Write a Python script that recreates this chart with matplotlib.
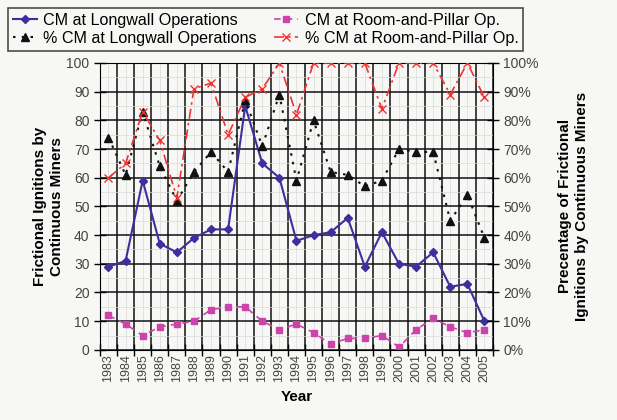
import matplotlib
matplotlib.use("Agg")
import matplotlib.pyplot as plt
import numpy as np
from matplotlib.ticker import MultipleLocator, FixedLocator, FuncFormatter

plt.rcParams['font.family'] = ['Liberation Sans', 'DejaVu Sans']

years = ["1983", "1984", "1985", "1986", "1987", "1988", "1989", "1990", "1991", "1992",
         "1993", "1994", "1995", "1996", "1997", "1998", "1999", "2000", "2001", "2002",
         "2003", "2004", "2005"]
cm_longwall = [29, 31, 59, 37, 34, 39, 42, 42, 85, 65, 60, 38, 40, 41, 46, 29, 41, 30, 29, 34, 22, 23, 10]
cm_room_pillar = [12, 9, 5, 8, 9, 10, 14, 15, 15, 10, 7, 9, 6, 2, 4, 4, 5, 1, 7, 11, 8, 6, 7]
pct_longwall = [74, 61, 83, 64, 52, 62, 69, 62, 87, 71, 89, 59, 80, 62, 61, 57, 59, 70, 69, 69, 45, 54, 39]
pct_room_pillar = [60, 65, 83, 73, 53, 91, 93, 75, 88, 91, 100, 82, 100, 100, 100, 100, 84, 100, 100, 100, 89, 100, 88]

bg = '#f7f7f5'
fig = plt.figure(figsize=(6.17, 4.20), dpi=100, facecolor=bg)
ax = fig.add_axes([0.162, 0.167, 0.637, 0.683], facecolor=bg)
ax2 = ax.twinx()

x = np.arange(len(years))
ax.set_xlim(-0.5, len(years) - 0.5)
ax.set_ylim(0, 100)
ax2.set_ylim(0, 100)

# grid
ax.xaxis.set_major_locator(FixedLocator(np.arange(-0.5, len(years), 1.0)))
ax.xaxis.set_minor_locator(FixedLocator(x))
ax.xaxis.set_major_formatter(FuncFormatter(lambda v, p: ""))
ax.xaxis.set_minor_formatter(FuncFormatter(lambda v, p: years[int(round(v))] if 0 <= int(round(v)) < len(years) else ""))
ax.yaxis.set_major_locator(MultipleLocator(10))
ax.yaxis.set_minor_locator(MultipleLocator(5))
ax.grid(which='major', color='#111111', linewidth=1.1)
ax.grid(which='minor', color='#d8d8d8', linewidth=0.5)
ax.set_axisbelow(True)

ax.tick_params(axis='x', which='major', direction='inout', length=8, width=1.0)
ax.tick_params(axis='x', which='minor', length=0, labelsize=9, labelrotation=90, pad=3)
ax.tick_params(axis='y', which='major', direction='inout', length=8, width=1.0, labelsize=10, labelcolor='#444444')
ax.tick_params(axis='y', which='minor', length=0)
for lab in ax.get_xticklabels(minor=True):
    lab.set_color('#444444')

ax2.yaxis.set_major_locator(MultipleLocator(10))
ax2.yaxis.set_major_formatter(FuncFormatter(lambda v, p: f"{int(v)}%"))
ax2.tick_params(axis='y', direction='inout', length=8, width=1.0, labelsize=10, labelcolor='#444444')

for a in (ax, ax2):
    for s in a.spines.values():
        s.set_visible(False)
ax.spines['left'].set_visible(True)
ax.spines['bottom'].set_visible(True)
ax2.spines['right'].set_visible(True)
ax.spines['top'].set_visible(True)

l1, = ax.plot(x, cm_longwall, color='#3d2f9e', linewidth=1.5, marker='D', markersize=4,
              label='CM at Longwall Operations')
l2, = ax.plot(x, cm_room_pillar, color='#cc44aa', linewidth=1.2, linestyle=(0, (4, 3)), marker='s',
              markersize=5, label='CM at Room-and-Pillar Op.')
l3, = ax2.plot(x, pct_longwall, color='#111111', linewidth=1.5, linestyle=(0, (1.2, 3)), marker='^',
               markersize=5.5, label='% CM at Longwall Operations')
l4, = ax2.plot(x, pct_room_pillar, color='#ee3333', linewidth=1.2, linestyle=(0, (6, 2.5, 1.5, 2.5)),
               marker='x', markersize=6, label='% CM at Room-and-Pillar Op.')

ax.set_ylabel("Frictional Ignitions by\nContinuous Miners", fontsize=11, fontweight='bold', labelpad=2)
ax2.set_ylabel("Precentage of Frictional\nIgnitions by Continuous Miners", fontsize=11,
               fontweight='bold', labelpad=14)
ax.set_xlabel("Year", fontsize=11, fontweight='bold', labelpad=6)

leg = fig.legend(handles=[l1, l3, l2, l4], loc='upper left', bbox_to_anchor=(0.013, 0.869, 0.835, 0.112),
                 mode='expand', ncol=2, fontsize=11.6, frameon=True, fancybox=False,
                 edgecolor='#222222', handlelength=1.5, handletextpad=0.4, columnspacing=0.8,
                 borderpad=0.3, labelspacing=0.2, borderaxespad=0)
leg.get_frame().set_facecolor(bg)
leg.get_frame().set_linewidth(1.2)

fig.savefig("out.png", dpi=100, facecolor=bg)
